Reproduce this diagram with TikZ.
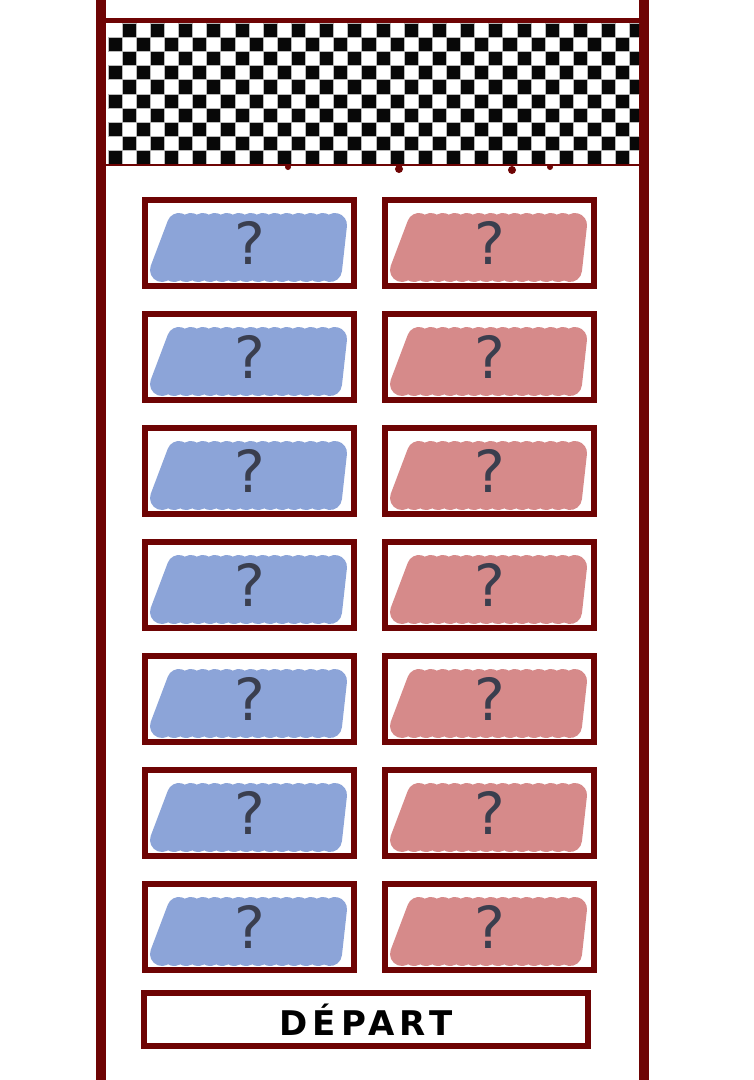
\documentclass[tikz,border=0pt]{standalone}
\usepackage{fontspec}
\setsansfont{DejaVu Sans}
\usepackage{tikz}
\usetikzlibrary{calc,backgrounds}
\definecolor{maroon}{RGB}{110,4,4}
\definecolor{blueteam}{RGB}{134,160,214}
\definecolor{redteam}{RGB}{212,132,132}
\definecolor{ink}{RGB}{58,62,78}

\begin{document}
\begin{tikzpicture}[
    x=1pt, y=-1pt,
    slot/.style={draw=maroon, line width=6pt, minimum width=209pt, minimum height=86pt, inner sep=0pt, text=ink, font=\sffamily\fontsize{58}{58}\selectfont},
    scrib/.style={draw=#1, line width=24pt, line cap=round, line join=round, opacity=0.95},
    post/.style={draw=maroon, line width=10pt}
  ]
    \useasboundingbox (0,0) rectangle (754,1080);

    % posts
    \draw[post] (101,0) -- (101,1080);
    \draw[post] (644,0) -- (644,1080);

    % chequered banner
    \begin{scope}
      \clip (106,23) rectangle (639,165);
      \foreach \i in {0,...,37}
        \foreach \j in {0,...,9} {
          \pgfmathtruncatemacro\odd{mod(\i+\j,2)}
          \ifnum\odd=1
            \fill[black!97, draw=gray!55, line width=0.8pt] (108+\i*14.1, 23+\j*14.2) rectangle ++(14.1,14.2);
          \fi
        }
    \end{scope}
    \draw[maroon, line width=5pt] (101,20.5) -- (644,20.5);
    \draw[maroon, line width=2pt] (106,165) -- (639,165);
    \fill[maroon] (288,167) circle (3) (399,169) circle (4) (512,170) circle (4) (550,167) circle (3);

    % mystery slots
    \foreach \k in {1,...,7} {
      \node[slot] (blue\k) at (249.5, 129+114*\k) {?};
      \node[slot] (red\k) at (489.5, 129+114*\k) {?};
    }
    \node[slot, minimum width=444pt, minimum height=53pt, text=black, font=\sffamily\bfseries\fontsize{34}{34}\selectfont\addfontfeature{LetterSpace=15}] (start) at (366,1019.5) {DÉPART};

    \begin{scope}[on background layer]
      \fill[white] (0,0) rectangle (754,1080);
      \foreach \k in {1,...,7} {
        \draw[scrib=blueteam] ($(blue\k.south west)+(20,-19)$) \foreach \s in {1,...,14}{ -- ++(17,-45) -- ++(-5,45) };
        \draw[scrib=redteam] ($(red\k.south west)+(20,-19)$) \foreach \s in {1,...,14}{ -- ++(17,-45) -- ++(-5,45) };
      }
    \end{scope}
  \end{tikzpicture}
\end{document}
